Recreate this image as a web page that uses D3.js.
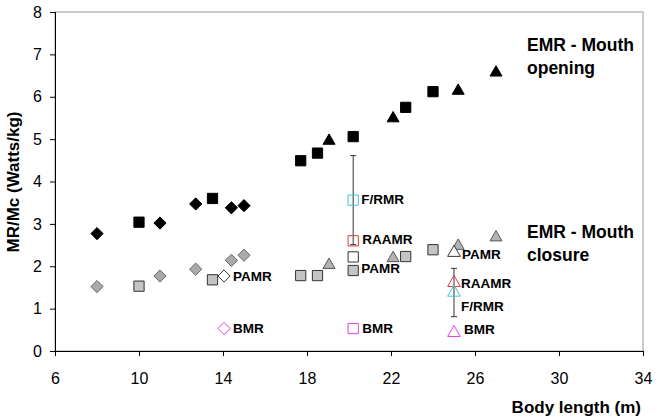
<!DOCTYPE html>
<html>
<head>
<meta charset="utf-8">
<script src="https://cdn.jsdelivr.net/npm/d3@7"></script>
<style>
  body { margin: 0; background: #fff; }
  svg { font-family: "Liberation Sans", Arial, sans-serif; }
</style>
</head>
<body>
<div id="chart"></div>
<script>
// Mouth opening (black) and mouth closure (grey) series
const diamondLengths = [8, 11, 12.7, 14.4, 15];
const diamondOpening = [2.77, 3.02, 3.47, 3.38, 3.43];
const diamondClosure = [1.52, 1.77, 1.93, 2.14, 2.26];

const squareLengths = [10, 13.5, 17.7, 18.5, 20.2, 22.7, 24];
const squareOpening = [3.04, 3.6, 4.49, 4.67, 5.06, 5.75, 6.12];
const squareClosure = [1.53, 1.68, 1.78, 1.78, 1.9, 2.23, 2.39];

const triangleLengths = [19.05, 22.1, 25.2, 27];
const triangleOpening = [4.96, 5.49, 6.14, 6.57];
const triangleClosure = [2.03, 2.19, 2.48, 2.68];

// Individual rate estimates per shape, in order of rateNames
const rateNames = ["PAMR", "RAAMR", "F/RMR", "BMR"];
const diamondRates = [1.77, null, null, 0.53];
const diamondRateLength = 14.05;
const squareRates = [2.22, 2.6, 3.56, 0.53];
const squareRateLength = 20.2;
const triangleRates = [2.32, 1.61, 1.38, 0.43];
const triangleRateLength = 25.0;
// F/RMR error (+/-)
const squareError = 1.05;
const triangleError = 0.57;

const xTicks = [6, 10, 14, 18, 22, 26, 30, 34];
const yTicks = [0, 1, 2, 3, 4, 5, 6, 7, 8];

const rateColors = {PAMR: "#ffffff", RAAMR: "#e03c3c", "F/RMR": "#3cc8dc", BMR: "#e040e0"};

const W = 658, H = 419;
const margin = {top: 12, right: 15, bottom: 68, left: 55};
const width = W - margin.left - margin.right;
const height = H - margin.top - margin.bottom;

const svg = d3.select("#chart").append("svg")
    .attr("width", W)
    .attr("height", H);

const g = svg.append("g")
    .attr("transform", `translate(${margin.left},${margin.top})`);

const x = d3.scaleLinear().domain([6, 34]).range([0, width]);
const y = d3.scaleLinear().domain([0, 8]).range([height, 0]);

// plot border (top / right)
g.append("rect")
    .attr("width", width).attr("height", height)
    .attr("fill", "none").attr("stroke", "#999").attr("stroke-width", 1);

const xAxis = g.append("g")
    .attr("transform", `translate(0,${height})`)
    .call(d3.axisBottom(x).tickValues(xTicks).tickSize(5).tickPadding(17));
const yAxis = g.append("g")
    .call(d3.axisLeft(y).tickValues(yTicks).tickSize(5).tickPadding(8));

[xAxis, yAxis].forEach(a => {
  a.selectAll("path, line").attr("stroke", "#000");
  a.selectAll("text").attr("font-size", 16).attr("fill", "#000")
    .attr("font-family", "Liberation Sans, Arial, sans-serif");
});

svg.append("text")
    .attr("x", 641).attr("y", 413)
    .attr("text-anchor", "end")
    .attr("font-size", 17).attr("font-weight", "bold")
    .text("Body length (m)");

svg.append("text")
    .attr("transform", "translate(19,182) rotate(-90)")
    .attr("text-anchor", "middle")
    .attr("font-size", 17).attr("font-weight", "bold")
    .text("MR/Mc (Watts/kg)");

const shapes = {
  diamond: {type: d3.symbolDiamond2, size: 95},
  square: {type: d3.symbolSquare, size: 105},
  triangle: {type: d3.symbolTriangle, size: 62}
};

function drawSeries(shape, lengths, values, fill, stroke) {
  const sym = d3.symbol().type(shapes[shape].type).size(shapes[shape].size);
  g.append("g").selectAll("path")
    .data(lengths.map((l, i) => [l, values[i]]))
    .enter().append("path")
      .attr("d", sym)
      .attr("transform", d => `translate(${x(d[0])},${y(d[1])})`)
      .attr("fill", fill)
      .attr("stroke", stroke)
      .attr("stroke-width", 1);
}

drawSeries("diamond", diamondLengths, diamondClosure, "#aaaaaa", "#666");
drawSeries("square", squareLengths, squareClosure, "#c4c4c4", "#333");
drawSeries("triangle", triangleLengths, triangleClosure, "#b4b4b4", "#555");

drawSeries("diamond", diamondLengths, diamondOpening, "#000", "#000");
drawSeries("square", squareLengths, squareOpening, "#000", "#000");
drawSeries("triangle", triangleLengths, triangleOpening, "#000", "#000");

// error bars for F/RMR
function errorBar(len, val, err) {
  const eb = g.append("g").attr("stroke", "#333").attr("stroke-width", 1);
  eb.append("line")
    .attr("x1", x(len)).attr("x2", x(len))
    .attr("y1", y(val + err)).attr("y2", y(val - err));
  [val + err, val - err].forEach(v => {
    eb.append("line")
      .attr("x1", x(len) - 3).attr("x2", x(len) + 3)
      .attr("y1", y(v)).attr("y2", y(v));
  });
}
errorBar(squareRateLength, squareRates[2], squareError);
errorBar(triangleRateLength, triangleRates[2], triangleError);

// label offsets (px) per shape/label
const labelOffsets = {
  diamond: {PAMR: [9, 0], BMR: [9, 0]},
  square: {PAMR: [8, 11], RAAMR: [9, -2], "F/RMR": [8, -1], BMR: [9, 0]},
  triangle: {PAMR: [8, 1], RAAMR: [7, 0], "F/RMR": [7, 14], BMR: [10, -4]}
};

function drawRates(shape, len, rates) {
  const sym = d3.symbol().type(shapes[shape].type)
      .size(shape === "triangle" ? 70 : shapes[shape].size);
  const pts = rateNames.map((n, i) => ({name: n, v: rates[i]})).filter(d => d.v !== null);
  const grp = g.append("g");
  grp.selectAll("path").data(pts).enter().append("path")
    .attr("d", sym)
    .attr("transform", d => `translate(${x(len)},${y(d.v)})`)
    .attr("fill", d => d.name === "PAMR" ? "#fff" : "none")
    .attr("stroke", d => d.name === "PAMR" ? "#333" : rateColors[d.name])
    .attr("stroke-width", 1);
  grp.selectAll("text").data(pts).enter().append("text")
    .attr("x", d => x(len) + labelOffsets[shape][d.name][0])
    .attr("y", d => y(d.v) + labelOffsets[shape][d.name][1])
    .attr("dy", "0.36em")
    .attr("font-size", 13.5).attr("font-weight", "bold")
    .text(d => d.name);
}
drawRates("diamond", diamondRateLength, diamondRates);
drawRates("square", squareRateLength, squareRates);
drawRates("triangle", triangleRateLength, triangleRates);

// series annotations
const notes = [
  {lines: ["EMR - Mouth", "opening"], x: 527, y: 51},
  {lines: ["EMR - Mouth", "closure"], x: 527, y: 238}
];
notes.forEach(n => {
  const t = svg.append("text")
    .attr("x", n.x).attr("y", n.y)
    .attr("font-size", 17.5).attr("font-weight", "bold");
  n.lines.forEach((l, i) => {
    t.append("tspan").attr("x", n.x).attr("dy", i === 0 ? 0 : 23).text(l);
  });
});
</script>
</body>
</html>
